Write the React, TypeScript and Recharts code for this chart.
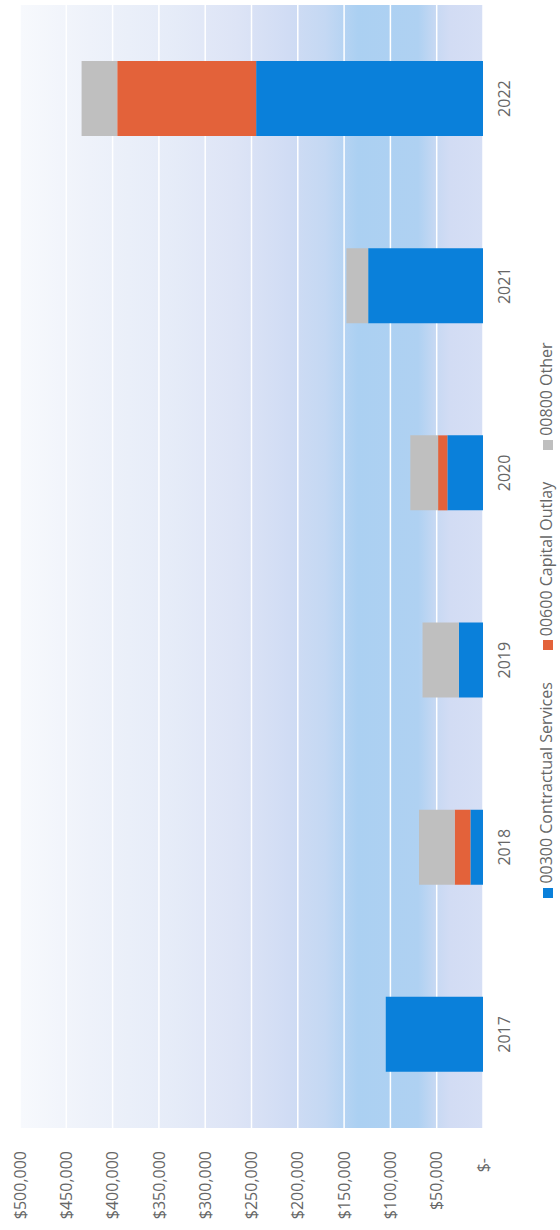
import React from 'react';
import { BarChart, Bar, XAxis, YAxis, CartesianGrid, DefaultLegendContent } from 'recharts';

// Spending by fiscal year, stacked by account code
const YEARS = ['2017', '2018', '2019', '2020', '2021', '2022'];
const CONTRACTUAL = [105000, 13600, 26000, 38500, 124000, 245000];
const CAPITAL_OUTLAY = [0, 17000, 0, 10000, 0, 150000];
const OTHER = [0, 38500, 39300, 30000, 23500, 38500];
const VALUE_TICKS = [0, 50000, 100000, 150000, 200000, 250000, 300000, 350000, 400000, 450000, 500000];

const SERIES = [
  { key: 'contractual', name: '00300 Contractual Services', color: '#0a80da' },
  { key: 'capital', name: '00600 Capital Outlay', color: '#e3623a' },
  { key: 'other', name: '00800 Other', color: '#bfbfbf' },
];

const chartData = YEARS.map((year, i) => ({
  year,
  contractual: CONTRACTUAL[i],
  capital: CAPITAL_OUTLAY[i],
  other: OTHER[i],
}));

const TEXT = '#666666';
const FONT = '"Open Sans", "Liberation Sans", sans-serif';

// accounting-style money labels, zero shows as "$-"
const MoneyTick = ({ x, y, payload }: any) => {
  const v = payload.value as number;
  const label = v === 0 ? '$-' : `$${v.toLocaleString('en-US')}`;
  return (
    <text
      x={v === 0 ? x - 7 : x}
      y={y}
      dy="0.35em"
      textAnchor="end"
      fill={TEXT}
      fontSize={16}
      fontFamily={FONT}
    >
      {label}
    </text>
  );
};

const legendPayload = SERIES.map((s) => ({ value: s.name, type: 'square' as const, color: s.color, id: s.key }));

export default function App() {
  return (
    <div
      style={{
        position: 'absolute',
        left: 0,
        top: 0,
        width: 560,
        height: 1230,
        overflow: 'hidden',
        background: '#ffffff',
        fontFamily: FONT,
      }}
    >
      {/* chart is laid out landscape, then turned a quarter counter-clockwise */}
      <div
        style={{
          position: 'absolute',
          left: 0,
          top: 0,
          width: 1230,
          height: 560,
          transformOrigin: '0 0',
          transform: 'translateY(1230px) rotate(-90deg)',
        }}
      >
        <BarChart
          width={1230}
          height={560}
          data={chartData}
          margin={{ top: 20, right: 5, bottom: 47, left: 0 }}
          barCategoryGap="30%"
        >
          <defs>
            <linearGradient id="plotShade" x1="0" y1="0" x2="0" y2="1">
              <stop offset="0" stopColor="#f7f9fd" />
              <stop offset="0.15" stopColor="#eef2fa" />
              <stop offset="0.32" stopColor="#e6ecf8" />
              <stop offset="0.47" stopColor="#dde4f6" />
              <stop offset="0.58" stopColor="#d0dcf4" />
              <stop offset="0.66" stopColor="#c4d8f3" />
              <stop offset="0.73" stopColor="#abd0f2" />
              <stop offset="0.86" stopColor="#afd1f2" />
              <stop offset="0.9" stopColor="#c8d9f3" />
              <stop offset="0.93" stopColor="#d2dcf4" />
              <stop offset="1" stopColor="#d6dff5" />
            </linearGradient>
          </defs>
          <CartesianGrid
            vertical={false}
            stroke="#ffffff"
            strokeWidth={1.5}
            fill="url(#plotShade)"
            fillOpacity={1}
          />
          <XAxis
            dataKey="year"
            axisLine={false}
            tickLine={false}
            tickSize={0}
            tickMargin={16}
            height={30}
            interval={0}
            tick={{ fill: TEXT, fontSize: 16, fontFamily: FONT }}
          />
          <YAxis
            type="number"
            width={102}
            domain={[0, 500000]}
            ticks={VALUE_TICKS}
            interval={0}
            axisLine={false}
            tickLine={false}
            tickSize={0}
            tickMargin={23}
            tick={<MoneyTick />}
          />
          {SERIES.map((s) => (
            <Bar
              key={s.key}
              dataKey={s.key}
              name={s.name}
              stackId="spend"
              fill={s.color}
              isAnimationActive={false}
            />
          ))}
        </BarChart>
        <div
          style={{
            position: 'absolute',
            left: 0,
            top: 536,
            width: 1230,
            fontSize: 16,
            lineHeight: '20px',
            fontFamily: FONT,
          }}
        >
          <DefaultLegendContent
            payload={legendPayload}
            iconSize={10}
            layout="horizontal"
            align="center"
            verticalAlign="bottom"
            formatter={(value: any, _entry: any, index: number) => (
              <span style={{ color: TEXT, paddingRight: index < SERIES.length - 1 ? 22 : 0 }}>{value}</span>
            )}
          />
        </div>
      </div>
    </div>
  );
}
